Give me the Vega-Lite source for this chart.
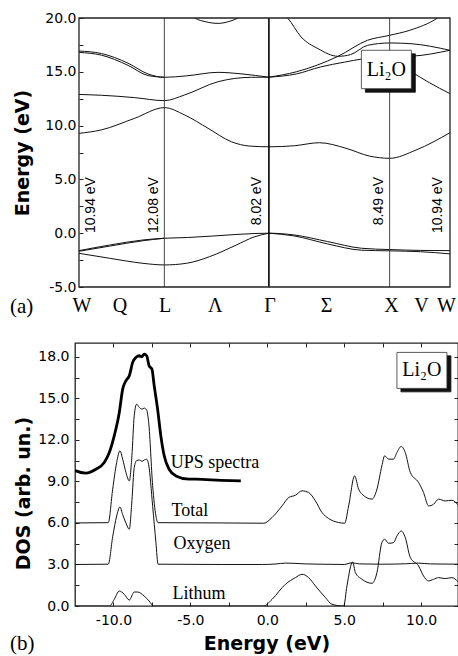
{
  "$schema": "https://vega.github.io/schema/vega-lite/v6.json",
  "padding": {"left": 9, "top": 11, "right": 0, "bottom": 0},
  "spacing": 23,
  "columns": 1,
  "bounds": "full",
  "config": {
    "view": {"stroke": "#222", "strokeWidth": 1.3},
    "axis": {"domain": false, "grid": false, "labelFont": "DejaVu Sans", "labelFontSize": 14, "labelColor": "#000", "tickColor": "#222", "tickWidth": 1, "titleFont": "DejaVu Sans", "titleFontWeight": "bold", "titleFontSize": 19, "titleColor": "#000", "labelFlush": false, "labelOverlap": false}
  },
  "datasets": {
    "bands": [
      {"band":"v1","k":0,"E":-1.62},{"band":"v1","k":0.254,"E":-1.1},{"band":"v1","k":0.53,"E":-0.63},{"band":"v1","k":0.707,"E":-0.47},{"band":"v1","k":0.9,"E":-0.4},{"band":"v1","k":1.1,"E":-0.27},{"band":"v1","k":1.3,"E":-0.12},{"band":"v1","k":1.45,"E":-0.03},{"band":"v1","k":1.573,"E":0},{"band":"v1","k":1.78,"E":-0.16},{"band":"v1","k":2.06,"E":-0.78},{"band":"v1","k":2.34,"E":-1.4},{"band":"v1","k":2.573,"E":-1.52},{"band":"v1","k":2.83,"E":-1.6},{"band":"v1","k":3.073,"E":-1.62},
      {"band":"v2","k":0,"E":-1.68},{"band":"v2","k":0.254,"E":-1.2},{"band":"v2","k":0.53,"E":-0.7},{"band":"v2","k":0.707,"E":-0.47},
      {"band":"v2b","k":1.573,"E":0},{"band":"v2b","k":1.78,"E":-0.25},{"band":"v2b","k":2.06,"E":-1.0},{"band":"v2b","k":2.34,"E":-1.58},{"band":"v2b","k":2.573,"E":-1.64},{"band":"v2b","k":2.83,"E":-1.72},{"band":"v2b","k":3.073,"E":-1.92},
      {"band":"v3","k":0,"E":-1.87},{"band":"v3","k":0.254,"E":-2.33},{"band":"v3","k":0.53,"E":-2.8},{"band":"v3","k":0.707,"E":-2.95},{"band":"v3","k":0.889,"E":-2.8},{"band":"v3","k":1.082,"E":-2.18},{"band":"v3","k":1.303,"E":-1.1},{"band":"v3","k":1.45,"E":-0.35},{"band":"v3","k":1.573,"E":0},
      {"band":"c1","k":0,"E":9.28},{"band":"c1","k":0.185,"E":9.6},{"band":"c1","k":0.461,"E":10.68},{"band":"c1","k":0.707,"E":11.67},{"band":"c1","k":0.875,"E":10.99},{"band":"c1","k":1.069,"E":9.75},{"band":"c1","k":1.262,"E":8.5},{"band":"c1","k":1.411,"E":8.1},{"band":"c1","k":1.573,"E":8.03},{"band":"c1","k":1.786,"E":8.13},{"band":"c1","k":1.991,"E":8.41},{"band":"c1","k":2.212,"E":7.89},{"band":"c1","k":2.405,"E":7.17},{"band":"c1","k":2.573,"E":6.96},{"band":"c1","k":2.792,"E":7.73},{"band":"c1","k":3.073,"E":9.34},
      {"band":"c2","k":0,"E":12.9},{"band":"c2","k":0.185,"E":12.82},{"band":"c2","k":0.461,"E":12.6},{"band":"c2","k":0.707,"E":12.32},{"band":"c2","k":0.875,"E":12.85},{"band":"c2","k":1.152,"E":14.08},{"band":"c2","k":1.428,"E":14.49},{"band":"c2","k":1.573,"E":14.5},
      {"band":"c3","k":0,"E":16.93},{"band":"c3","k":0.185,"E":16.7},{"band":"c3","k":0.406,"E":15.8},{"band":"c3","k":0.572,"E":14.8},{"band":"c3","k":0.707,"E":14.49},{"band":"c3","k":0.889,"E":14.62},{"band":"c3","k":1.152,"E":14.95},{"band":"c3","k":1.35,"E":14.8},{"band":"c3","k":1.573,"E":14.5},
      {"band":"c4","k":0,"E":16.8},{"band":"c4","k":0.185,"E":16.55},{"band":"c4","k":0.406,"E":15.6},{"band":"c4","k":0.572,"E":14.65},{"band":"c4","k":0.707,"E":14.49},
      {"band":"cB","k":1.573,"E":14.5},{"band":"cB","k":1.8,"E":15.0},{"band":"cB","k":2.146,"E":16.44},{"band":"cB","k":2.39,"E":17.93},{"band":"cB","k":2.573,"E":18.39},{"band":"cB","k":2.74,"E":18.86},{"band":"cB","k":2.97,"E":20.0},{"band":"cB","k":3.02,"E":20.4},
      {"band":"cC","k":1.573,"E":14.5},{"band":"cC","k":1.8,"E":14.8},{"band":"cC","k":2.0,"E":15.45},{"band":"cC","k":2.2,"E":15.9},{"band":"cC","k":2.35,"E":16.2},{"band":"cC","k":2.573,"E":16.4},{"band":"cC","k":2.753,"E":16.45},{"band":"cC","k":3.073,"E":17.0},
      {"band":"cA","k":1.70,"E":20.3},{"band":"cA","k":1.728,"E":20.0},{"band":"cA","k":1.84,"E":18.23},{"band":"cA","k":1.98,"E":17.15},{"band":"cA","k":2.146,"E":16.44},{"band":"cA","k":2.25,"E":16.6},{"band":"cA","k":2.39,"E":17.46},{"band":"cA","k":2.573,"E":17.68},{"band":"cA","k":2.75,"E":17.61},{"band":"cA","k":3.073,"E":17.0},
      {"band":"cE","k":2.573,"E":16.0},{"band":"cE","k":2.65,"E":15.7},{"band":"cE","k":2.753,"E":15.0},{"band":"cE","k":2.9,"E":14.0},{"band":"cE","k":3.073,"E":12.97},
      {"band":"cT","k":0.9,"E":20.5},{"band":"cT","k":0.958,"E":20.0},{"band":"cT","k":1.05,"E":19.65},{"band":"cT","k":1.152,"E":19.5},{"band":"cT","k":1.25,"E":19.7},{"band":"cT","k":1.317,"E":20.0},{"band":"cT","k":1.37,"E":20.4}
    ],
    "points": [{"p":"L","k":0.707},{"p":"Γ","k":1.573},{"p":"X","k":2.573}],
    "frameA": [{"k1":0,"k2":3.073,"E1":-5,"E2":20}],
    "gaps": [
      {"label":"10.94 eV","k":0.099,"E":5.22},
      {"label":"12.08 eV","k":0.624,"E":5.22},
      {"label":"8.02 eV","k":1.477,"E":5.22},
      {"label":"8.49 eV","k":2.488,"E":5.22},
      {"label":"10.94 eV","k":2.977,"E":5.22}
    ],
    "boxA": [{"part":"shadow","k1":2.372,"k2":2.786,"E1":13.1,"E2":16.67},{"part":"box","k1":2.339,"k2":2.753,"E1":13.43,"E2":17.0}],
    "boxAText": [{"t":"Li₂O","k":2.546,"E":15.2}],
    "panelA": [{"t":"(a)","k":-0.572,"E":-6.86}],
    "dos": [
      {"s":"Total","en":-12.5,"d":6.0},{"s":"Total","en":-10.34,"d":6.02},{"s":"Total","en":-10.05,"d":8.44},{"s":"Total","en":-9.79,"d":10.37},{"s":"Total","en":-9.58,"d":11.21},{"s":"Total","en":-9.4,"d":10.61},{"s":"Total","en":-9.19,"d":9.65},{"s":"Total","en":-8.97,"d":9.04},{"s":"Total","en":-8.8,"d":10.85},{"s":"Total","en":-8.65,"d":13.74},{"s":"Total","en":-8.49,"d":14.58},{"s":"Total","en":-8.32,"d":14.35},{"s":"Total","en":-8.15,"d":14.22},{"s":"Total","en":-8.0,"d":14.3},{"s":"Total","en":-7.84,"d":14.15},{"s":"Total","en":-7.71,"d":13.26},{"s":"Total","en":-7.45,"d":8.68},{"s":"Total","en":-7.24,"d":6.51},{"s":"Total","en":-7.1,"d":6.02},{"s":"Total","en":-3.0,"d":6.0},{"s":"Total","en":-0.23,"d":5.98},{"s":"Total","en":0.31,"d":6.39},{"s":"Total","en":0.96,"d":7.23},{"s":"Total","en":1.4,"d":7.84},{"s":"Total","en":1.83,"d":8.0},{"s":"Total","en":2.26,"d":8.32},{"s":"Total","en":2.69,"d":8.2},{"s":"Total","en":3.13,"d":7.59},{"s":"Total","en":3.56,"d":6.75},{"s":"Total","en":3.99,"d":6.32},{"s":"Total","en":4.64,"d":6.03},{"s":"Total","en":5.03,"d":5.98},{"s":"Total","en":5.29,"d":7.23},{"s":"Total","en":5.68,"d":9.4},{"s":"Total","en":5.94,"d":8.44},{"s":"Total","en":6.16,"d":8.08},{"s":"Total","en":6.81,"d":7.72},{"s":"Total","en":7.13,"d":8.44},{"s":"Total","en":7.45,"d":10.12},{"s":"Total","en":7.63,"d":10.85},{"s":"Total","en":7.89,"d":10.61},{"s":"Total","en":8.21,"d":10.61},{"s":"Total","en":8.43,"d":11.09},{"s":"Total","en":8.71,"d":11.53},{"s":"Total","en":8.97,"d":11.09},{"s":"Total","en":9.3,"d":9.65},{"s":"Total","en":9.84,"d":8.92},{"s":"Total","en":10.16,"d":8.2},{"s":"Total","en":10.49,"d":7.23},{"s":"Total","en":10.81,"d":7.35},{"s":"Total","en":11.14,"d":7.72},{"s":"Total","en":11.57,"d":7.59},{"s":"Total","en":12.0,"d":7.64},{"s":"Total","en":12.4,"d":7.3},
      {"s":"Oxygen","en":-12.5,"d":3.0},{"s":"Oxygen","en":-10.34,"d":3.02},{"s":"Oxygen","en":-10.05,"d":5.0},{"s":"Oxygen","en":-9.79,"d":6.5},{"s":"Oxygen","en":-9.58,"d":7.15},{"s":"Oxygen","en":-9.4,"d":6.6},{"s":"Oxygen","en":-9.19,"d":6.0},{"s":"Oxygen","en":-8.97,"d":5.55},{"s":"Oxygen","en":-8.8,"d":7.6},{"s":"Oxygen","en":-8.65,"d":10.0},{"s":"Oxygen","en":-8.49,"d":10.5},{"s":"Oxygen","en":-8.32,"d":10.55},{"s":"Oxygen","en":-8.15,"d":10.45},{"s":"Oxygen","en":-8.0,"d":10.55},{"s":"Oxygen","en":-7.84,"d":10.6},{"s":"Oxygen","en":-7.71,"d":10.2},{"s":"Oxygen","en":-7.45,"d":7.2},{"s":"Oxygen","en":-7.24,"d":4.6},{"s":"Oxygen","en":-7.1,"d":3.02},{"s":"Oxygen","en":-3.0,"d":3.0},{"s":"Oxygen","en":-0.3,"d":3.0},{"s":"Oxygen","en":0.5,"d":3.03},{"s":"Oxygen","en":1.2,"d":3.1},{"s":"Oxygen","en":1.8,"d":3.08},{"s":"Oxygen","en":2.5,"d":3.04},{"s":"Oxygen","en":3.5,"d":3.02},{"s":"Oxygen","en":5.0,"d":3.0},{"s":"Oxygen","en":5.5,"d":3.12},{"s":"Oxygen","en":6.0,"d":3.04},{"s":"Oxygen","en":7.5,"d":3.02},{"s":"Oxygen","en":9.0,"d":3.05},{"s":"Oxygen","en":9.8,"d":3.1},{"s":"Oxygen","en":10.6,"d":3.04},{"s":"Oxygen","en":12.4,"d":3.02},
      {"s":"Lithium","en":-12.5,"d":0},{"s":"Lithium","en":-10.25,"d":0},{"s":"Lithium","en":-9.95,"d":0.48},{"s":"Lithium","en":-9.62,"d":1.08},{"s":"Lithium","en":-9.3,"d":0.85},{"s":"Lithium","en":-8.97,"d":0.43},{"s":"Lithium","en":-8.65,"d":1.01},{"s":"Lithium","en":-8.43,"d":1.01},{"s":"Lithium","en":-8.0,"d":0.72},{"s":"Lithium","en":-7.68,"d":0.36},{"s":"Lithium","en":-7.39,"d":0},{"s":"Lithium","en":-3.0,"d":0},{"s":"Lithium","en":-0.23,"d":0},{"s":"Lithium","en":0.31,"d":0.48},{"s":"Lithium","en":1.18,"d":1.57},{"s":"Lithium","en":1.83,"d":2.05},{"s":"Lithium","en":2.26,"d":2.29},{"s":"Lithium","en":2.69,"d":2.05},{"s":"Lithium","en":3.13,"d":1.45},{"s":"Lithium","en":3.78,"d":0.61},{"s":"Lithium","en":4.21,"d":0.12},{"s":"Lithium","en":4.97,"d":0},{"s":"Lithium","en":5.18,"d":1.45},{"s":"Lithium","en":5.55,"d":3.18},{"s":"Lithium","en":5.73,"d":2.41},{"s":"Lithium","en":6.16,"d":1.93},{"s":"Lithium","en":6.81,"d":1.64},{"s":"Lithium","en":7.13,"d":2.41},{"s":"Lithium","en":7.45,"d":4.58},{"s":"Lithium","en":7.63,"d":4.82},{"s":"Lithium","en":7.89,"d":4.53},{"s":"Lithium","en":8.21,"d":4.58},{"s":"Lithium","en":8.43,"d":5.06},{"s":"Lithium","en":8.71,"d":5.42},{"s":"Lithium","en":8.97,"d":4.95},{"s":"Lithium","en":9.3,"d":3.5},{"s":"Lithium","en":9.84,"d":2.89},{"s":"Lithium","en":10.16,"d":2.17},{"s":"Lithium","en":10.49,"d":1.81},{"s":"Lithium","en":10.81,"d":1.93},{"s":"Lithium","en":11.14,"d":2.05},{"s":"Lithium","en":11.57,"d":1.98},{"s":"Lithium","en":12.0,"d":2.05},{"s":"Lithium","en":12.4,"d":1.75}
    ],
    "ups": [
      {"en":-12.5,"d":9.8},{"en":-12.44,"d":9.76},{"en":-11.79,"d":9.6},{"en":-11.14,"d":9.88},{"en":-10.6,"d":10.37},{"en":-10.27,"d":11.09},{"en":-9.95,"d":12.29},{"en":-9.62,"d":13.98},{"en":-9.4,"d":15.67},{"en":-9.19,"d":16.27},{"en":-8.97,"d":16.63},{"en":-8.75,"d":17.6},{"en":-8.54,"d":17.96},{"en":-8.32,"d":18.08},{"en":-8.17,"d":18.0},{"en":-8.0,"d":18.2},{"en":-7.84,"d":18.08},{"en":-7.68,"d":17.35},{"en":-7.5,"d":17.12},{"en":-7.35,"d":15.9},{"en":-7.13,"d":14.22},{"en":-6.92,"d":12.29},{"en":-6.7,"d":10.85},{"en":-6.38,"d":9.88},{"en":-5.94,"d":9.4},{"en":-5.08,"d":9.16},{"en":-4.64,"d":9.16},{"en":-3.02,"d":9.08},{"en":-1.72,"d":9.04}
    ],
    "dosLabels": [
      {"t":"UPS spectra","en":-6.27,"d":10.0},
      {"t":"Total","en":-6.22,"d":6.51},
      {"t":"Oxygen","en":-6.09,"d":4.1},
      {"t":"Lithum","en":-6.16,"d":0.48}
    ],
    "boxB": [{"part":"shadow","x1":8.69,"x2":11.94,"y1":15.47,"y2":18.07},{"part":"box","x1":8.43,"x2":11.68,"y1":15.72,"y2":18.32}],
    "boxBText": [{"t":"Li₂O","en":10.05,"d":17.02}],
    "panelB": [{"t":"(b)","en":-16.72,"d":-2.77}]
  },
  "concat": [
    {
      "width": 375,
      "height": 269,
      "view": {"stroke": null},
      "resolve": {"axis": {"x": "independent", "y": "independent"}},
      "layer": [
        {
          "data": {"name": "bands"},
          "mark": {"type": "line", "interpolate": "monotone", "clip": true, "color": "#111", "strokeWidth": 1},
          "encoding": {
            "x": {"field": "k", "type": "quantitative", "scale": {"domain": [-0.0331, 3.073], "nice": false, "zero": false},
              "axis": {"values": [0.02, 0.336, 0.709, 1.124, 1.579, 2.046, 2.585, 2.833, 3.04], "labelExpr": "datum.value < 0.1 ? 'W' : datum.value < 0.5 ? 'Q' : datum.value < 0.9 ? 'L' : datum.value < 1.3 ? 'Λ' : datum.value < 1.8 ? 'Γ' : datum.value < 2.3 ? 'Σ' : datum.value < 2.7 ? 'X' : datum.value < 2.95 ? 'V' : 'W'", "ticks": false, "labelFont": "Liberation Serif", "labelFontSize": 20, "labelPadding": 8, "title": null, "labelBound": false}},
            "y": {"field": "E", "type": "quantitative", "scale": {"domain": [-5, 20], "nice": false, "zero": false},
              "axis": {"offset": -4, "values": [-5, -2.5, 0, 2.5, 5, 7.5, 10, 12.5, 15, 17.5, 20], "labelExpr": "datum.value % 5 === 0 ? replace(format(datum.value, '.1f'), '−', '-') : ''", "tickSize": -4, "labelPadding": 7, "title": "Energy (eV)", "titlePadding": 12}},
            "detail": {"field": "band"}
          }
        },
        {
          "data": {"name": "points"},
          "transform": [{"filter": "datum.p !== 'Γ'"}],
          "mark": {"type": "rule", "color": "#333", "strokeWidth": 0.9},
          "encoding": {
            "x": {"field": "k", "type": "quantitative", "scale": {"domain": [-0.0331, 3.073], "nice": false, "zero": false}, "axis": null}
          }
        },
        {
          "data": {"name": "points"},
          "transform": [{"filter": "datum.p === 'Γ'"}],
          "mark": {"type": "rule", "color": "#000", "strokeWidth": 1.6},
          "encoding": {
            "x": {"field": "k", "type": "quantitative", "scale": {"domain": [-0.0331, 3.073], "nice": false, "zero": false}, "axis": null}
          }
        },
        {
          "data": {"name": "gaps"},
          "mark": {"type": "text", "angle": 270, "align": "right", "baseline": "middle", "font": "Liberation Sans", "fontSize": 14, "color": "#000"},
          "encoding": {
            "x": {"field": "k", "type": "quantitative", "scale": {"domain": [-0.0331, 3.073], "nice": false, "zero": false}, "axis": null},
            "y": {"field": "E", "type": "quantitative", "scale": {"domain": [-5, 20], "nice": false, "zero": false}, "axis": null},
            "text": {"field": "label"}
          }
        },
        {
          "data": {"name": "boxA"},
          "mark": {"type": "rect", "strokeWidth": 0.8},
          "encoding": {
            "x": {"field": "k1", "type": "quantitative", "scale": {"domain": [-0.0331, 3.073], "nice": false, "zero": false}, "axis": null},
            "x2": {"field": "k2"},
            "y": {"field": "E1", "type": "quantitative", "scale": {"domain": [-5, 20], "nice": false, "zero": false}, "axis": null},
            "y2": {"field": "E2"},
            "fill": {"field": "part", "type": "nominal", "scale": {"domain": ["shadow", "box"], "range": ["#111", "#fff"]}, "legend": null},
            "stroke": {"field": "part", "type": "nominal", "scale": {"domain": ["shadow", "box"], "range": ["#111", "#333"]}, "legend": null},
            "order": {"field": "part", "sort": "descending"}
          }
        },
        {
          "data": {"name": "boxAText"},
          "mark": {"type": "text", "font": "Liberation Serif", "fontSize": 20, "align": "center", "baseline": "middle", "color": "#000"},
          "encoding": {
            "x": {"field": "k", "type": "quantitative", "scale": {"domain": [-0.0331, 3.073], "nice": false, "zero": false}, "axis": null},
            "y": {"field": "E", "type": "quantitative", "scale": {"domain": [-5, 20], "nice": false, "zero": false}, "axis": null},
            "text": {"field": "t"}
          }
        },
        {
          "data": {"name": "frameA"},
          "mark": {"type": "rect", "fill": null, "fillOpacity": 0, "stroke": "#222", "strokeWidth": 1.3},
          "encoding": {
            "x": {"field": "k1", "type": "quantitative", "scale": {"domain": [-0.0331, 3.073], "nice": false, "zero": false}, "axis": null},
            "x2": {"field": "k2"},
            "y": {"field": "E1", "type": "quantitative", "scale": {"domain": [-5, 20], "nice": false, "zero": false}, "axis": null},
            "y2": {"field": "E2"}
          }
        },
        {
          "data": {"name": "panelA"},
          "mark": {"type": "text", "font": "Liberation Serif", "fontSize": 21, "align": "left", "baseline": "middle", "color": "#000"},
          "encoding": {
            "x": {"field": "k", "type": "quantitative", "scale": {"domain": [-0.0331, 3.073], "nice": false, "zero": false}, "axis": null},
            "y": {"field": "E", "type": "quantitative", "scale": {"domain": [-5, 20], "nice": false, "zero": false}, "axis": null},
            "text": {"field": "t"}
          }
        }
      ]
    },
    {
      "width": 383,
      "height": 263,
      "resolve": {"axis": {"x": "independent", "y": "independent"}},
      "layer": [
        {
          "data": {"name": "dos"},
          "mark": {"type": "line", "interpolate": "monotone", "clip": true, "color": "#111", "strokeWidth": 1},
          "encoding": {
            "x": {"field": "en", "type": "quantitative", "scale": {"domain": [-12.5, 12.4], "nice": false, "zero": false},
              "axis": {"values": [-10, -7.5, -5, -2.5, 0, 2.5, 5, 7.5, 10], "labelExpr": "datum.value % 5 === 0 ? replace(format(datum.value, '.1f'), '−', '-') : ''", "tickSize": -4, "labelPadding": 11, "title": "Energy (eV)", "titlePadding": 7}},
            "y": {"field": "d", "type": "quantitative", "scale": {"domain": [0, 19], "nice": false, "zero": false},
              "axis": {"values": [0, 1.5, 3, 4.5, 6, 7.5, 9, 10.5, 12, 13.5, 15, 16.5, 18], "labelExpr": "datum.value % 3 === 0 ? format(datum.value, '.1f') : ''", "tickSize": -4, "labelPadding": 10, "title": "DOS (arb. un.)", "titlePadding": 4, "titleY": 150}},
            "detail": {"field": "s"}
          }
        },
        {
          "data": {"name": "ups"},
          "mark": {"type": "line", "interpolate": "monotone", "clip": true, "color": "#000", "strokeWidth": 2.8},
          "encoding": {
            "x": {"field": "en", "type": "quantitative", "scale": {"domain": [-12.5, 12.4], "nice": false, "zero": false},
              "axis": {"orient": "top", "values": [-10, -7.5, -5, -2.5, 0, 2.5, 5, 7.5, 10], "labels": false, "tickSize": -4, "title": null}},
            "y": {"field": "d", "type": "quantitative", "scale": {"domain": [0, 19], "nice": false, "zero": false},
              "axis": {"orient": "right", "values": [0, 1.5, 3, 4.5, 6, 7.5, 9, 10.5, 12, 13.5, 15, 16.5, 18], "labels": false, "tickSize": -4, "title": null}}
          }
        },
        {
          "data": {"name": "dosLabels"},
          "mark": {"type": "text", "font": "Liberation Serif", "fontSize": 18, "align": "left", "baseline": "alphabetic", "color": "#000"},
          "encoding": {
            "x": {"field": "en", "type": "quantitative", "scale": {"domain": [-12.5, 12.4], "nice": false, "zero": false}, "axis": null},
            "y": {"field": "d", "type": "quantitative", "scale": {"domain": [0, 19], "nice": false, "zero": false}, "axis": null},
            "text": {"field": "t"}
          }
        },
        {
          "data": {"name": "boxB"},
          "mark": {"type": "rect", "strokeWidth": 0.8},
          "encoding": {
            "x": {"field": "x1", "type": "quantitative", "scale": {"domain": [-12.5, 12.4], "nice": false, "zero": false}, "axis": null},
            "x2": {"field": "x2"},
            "y": {"field": "y1", "type": "quantitative", "scale": {"domain": [0, 19], "nice": false, "zero": false}, "axis": null},
            "y2": {"field": "y2"},
            "fill": {"field": "part", "type": "nominal", "scale": {"domain": ["shadow", "box"], "range": ["#111", "#fff"]}, "legend": null},
            "stroke": {"field": "part", "type": "nominal", "scale": {"domain": ["shadow", "box"], "range": ["#111", "#333"]}, "legend": null},
            "order": {"field": "part", "sort": "descending"}
          }
        },
        {
          "data": {"name": "boxBText"},
          "mark": {"type": "text", "font": "Liberation Serif", "fontSize": 20, "align": "center", "baseline": "middle", "color": "#000"},
          "encoding": {
            "x": {"field": "en", "type": "quantitative", "scale": {"domain": [-12.5, 12.4], "nice": false, "zero": false}, "axis": null},
            "y": {"field": "d", "type": "quantitative", "scale": {"domain": [0, 19], "nice": false, "zero": false}, "axis": null},
            "text": {"field": "t"}
          }
        },
        {
          "data": {"name": "panelB"},
          "mark": {"type": "text", "font": "Liberation Serif", "fontSize": 21, "align": "left", "baseline": "middle", "color": "#000"},
          "encoding": {
            "x": {"field": "en", "type": "quantitative", "scale": {"domain": [-12.5, 12.4], "nice": false, "zero": false}, "axis": null},
            "y": {"field": "d", "type": "quantitative", "scale": {"domain": [0, 19], "nice": false, "zero": false}, "axis": null},
            "text": {"field": "t"}
          }
        }
      ]
    }
  ]
}
